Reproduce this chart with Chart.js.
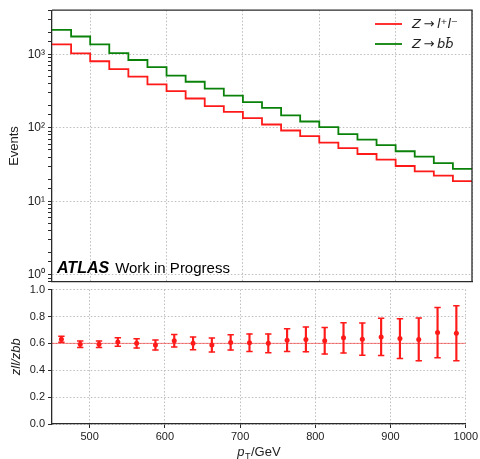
<!DOCTYPE html>
<html>
<head>
<meta charset="utf-8">
<script src="https://cdn.jsdelivr.net/npm/chart.js@4"></script>
<style>
  html, body { margin: 0; padding: 0; background: #fff; }
  #wrap { position: relative; width: 480px; height: 459px; }
  canvas { position: absolute; left: 0; }
  #top { top: 0; }
  #ratio { top: 280px; }
</style>
</head>
<body>
<div id="wrap">
  <canvas id="top" width="480" height="292"></canvas>
  <canvas id="ratio" width="480" height="179"></canvas>
</div>
<script>
// pT bin edges (GeV)
const binEdges = [450, 475, 500, 525, 550, 575, 600, 625, 650, 675, 700, 725,
                  750, 775, 800, 825, 850, 875, 900, 925, 950, 975, 1000];
// bin centres used by the ratio points
const binCentres = [462.5, 487.5, 512.5, 537.5, 562.5, 587.5, 612.5, 637.5, 662.5, 687.5, 712.5,
                    737.5, 762.5, 787.5, 812.5, 837.5, 862.5, 887.5, 912.5, 937.5, 962.5, 987.5];

// events per bin
const zllEvents = [1372, 1031, 807, 631, 498, 390, 317, 251, 198, 165, 136,
                   111, 92, 77, 63, 53, 44, 37, 30.2, 25.6, 22.4, 18.8];
const zbbEvents = [2154, 1754, 1372, 1041, 839, 671, 514, 424, 341, 275, 224,
                   187, 148, 122, 102, 82, 69, 58, 48, 40.6, 33, 27.6];

// zll / zbb ratio and its uncertainty
const ratioValues = [0.631, 0.593, 0.593, 0.610, 0.600, 0.588, 0.619, 0.600, 0.588, 0.607, 0.605,
                     0.600, 0.624, 0.629, 0.619, 0.641, 0.631, 0.648, 0.636, 0.629, 0.680, 0.675];
const ratioErrors = [0.022, 0.024, 0.024, 0.031, 0.035, 0.037, 0.046, 0.047, 0.052, 0.057, 0.065,
                     0.070, 0.085, 0.092, 0.099, 0.113, 0.120, 0.139, 0.148, 0.159, 0.187, 0.204];
const ratioReference = 0.6;

// axis ticks
const xTicks = [500, 600, 700, 800, 900, 1000];
const ratioTicks = [0, 0.2, 0.4, 0.6, 0.8, 1.0];

const seriesNames = ['Z\u2009\u2192\u2009l\u207Al\u207B', 'Z\u2009\u2192\u2009bb\u0304'];
const seriesColors = ['#ff1a1a', '#0a820a'];

const FONT = '"Liberation Sans", Arial, Helvetica, sans-serif';
const AXIS = '#2a2a2a';
const GRID = '#bdbdbd';
const GRID_DASH = [1.5, 2];
Chart.defaults.font.family = FONT;
Chart.defaults.color = '#222';

const SUP = {'-': '\u207B', '0': '\u2070', '1': '\u00B9', '2': '\u00B2', '3': '\u00B3', '4': '\u2074'};

const isDecade = v => {
  const e = Math.round(Math.log10(v));
  return Math.abs(v - Math.pow(10, e)) < 1e-6 * v;
};

// histogram outline: each bin value held across the bin, final edge repeats last value
function stepData(values) {
  return binEdges.map((x, i) => ({ x, y: values[Math.min(i, values.length - 1)] }));
}

const frameTopRight = {
  id: 'frameTopRight',
  afterDraw(chart) {
    const { ctx, chartArea: a } = chart;
    ctx.save();
    ctx.strokeStyle = AXIS;
    ctx.lineWidth = 1.3;
    ctx.beginPath();
    ctx.moveTo(a.left, a.top);
    ctx.lineTo(a.right, a.top);
    ctx.lineTo(a.right, a.bottom);
    ctx.stroke();
    ctx.restore();
  }
};

const topLabels = {
  id: 'topLabels',
  afterDraw(chart) {
    const { ctx } = chart;
    ctx.save();
    // legend
    const lx = 375, lw = 27, ys = [24, 44];
    seriesNames.forEach((name, i) => {
      ctx.strokeStyle = seriesColors[i];
      ctx.lineWidth = 1.8;
      ctx.beginPath();
      ctx.moveTo(lx, ys[i]);
      ctx.lineTo(lx + lw, ys[i]);
      ctx.stroke();
      ctx.fillStyle = '#222';
      ctx.font = 'italic 13px "DejaVu Sans", sans-serif';
      ctx.textBaseline = 'middle';
      ctx.textAlign = 'left';
      ctx.fillText(name, 412, ys[i] + 1);
    });
    // experiment label
    ctx.textBaseline = 'alphabetic';
    ctx.fillStyle = '#000';
    ctx.font = 'italic bold 16px ' + FONT;
    ctx.fillText('ATLAS', 57, 273);
    const w = ctx.measureText('ATLAS').width;
    ctx.font = '15px ' + FONT;
    ctx.fillText('Work in Progress', 57 + w + 6, 273);
    ctx.restore();
  }
};

new Chart(document.getElementById('top'), {
  type: 'line',
  data: {
    datasets: [
      { label: seriesNames[0], data: stepData(zllEvents), borderColor: seriesColors[0],
        borderWidth: 1.8, stepped: 'before', pointRadius: 0, fill: false },
      { label: seriesNames[1], data: stepData(zbbEvents), borderColor: seriesColors[1],
        borderWidth: 1.8, stepped: 'before', pointRadius: 0, fill: false }
    ]
  },
  options: {
    responsive: false,
    animation: false,
    layout: { padding: { top: 8, left: 0, right: 8, bottom: 6 } },
    plugins: { legend: { display: false }, tooltip: { enabled: false } },
    scales: {
      x: {
        type: 'linear', min: 450, max: 1000, offset: false,
        afterBuildTicks: s => { s.ticks = xTicks.map(v => ({ value: v })); },
        afterFit: s => { s.height = 0; },
        ticks: { display: false },
        grid: { color: GRID, lineWidth: 1, drawTicks: false },
        border: { color: AXIS, width: 1.3, dash: GRID_DASH }
      },
      y: {
        type: 'logarithmic', min: 0.8, max: 4000,
        afterFit: s => { s.width = 52; },
        ticks: {
          autoSkip: false, padding: 3, font: { size: 12 }, color: '#222',
          callback: v => {
            if (!isDecade(v)) return '';
            const e = Math.round(Math.log10(v));
            return '10' + String(e).split('').map(c => SUP[c]).join('');
          }
        },
        grid: {
          color: c => (c.tick && isDecade(c.tick.value) ? GRID : 'rgba(0,0,0,0)'),
          lineWidth: 1,
          tickLength: 4, tickColor: AXIS, tickWidth: 1
        },
        border: { color: AXIS, width: 1.3, dash: GRID_DASH },
        title: { display: true, text: 'Events', font: { size: 13 }, color: '#222', padding: { top: 7, bottom: 0 } }
      }
    }
  },
  plugins: [frameTopRight, topLabels]
});

const xTitle = {
  id: 'xTitle',
  afterDraw(chart) {
    const { ctx, chartArea: a } = chart;
    ctx.save();
    ctx.fillStyle = '#222';
    ctx.textBaseline = 'alphabetic';
    ctx.textAlign = 'left';
    const fMain = '13px ' + FONT, fIt = 'italic 13px ' + FONT, fSub = '9px ' + FONT;
    ctx.font = fIt; const wp = ctx.measureText('p').width;
    ctx.font = fSub; const wt = ctx.measureText('T').width;
    ctx.font = fMain; const wg = ctx.measureText('/GeV').width;
    const total = wp + wt + 1 + wg;
    let x = (a.left + a.right) / 2 - total / 2;
    const base = 176;
    ctx.font = fIt; ctx.fillText('p', x, base); x += wp + 0.5;
    ctx.font = fSub; ctx.fillText('T', x, base + 3); x += wt + 0.5;
    ctx.font = fMain; ctx.fillText('/GeV', x, base);
    ctx.restore();
  }
};

const RED = '#ff1a1a';
new Chart(document.getElementById('ratio'), {
  type: 'scatter',
  data: {
    datasets: [
      { type: 'line', data: [{ x: binEdges[0], y: ratioReference }, { x: binEdges[binEdges.length - 1], y: ratioReference }],
        borderColor: 'rgba(255,0,0,0.5)', borderWidth: 1, pointRadius: 0, order: 4 },
      { type: 'bar', data: binCentres.map((x, i) => ({ x, y: [ratioValues[i] - ratioErrors[i], ratioValues[i] + ratioErrors[i]] })),
        backgroundColor: RED, borderWidth: 0, barThickness: 1.5, order: 3 },
      { data: binCentres.flatMap((x, i) => [{ x, y: ratioValues[i] + ratioErrors[i] }, { x, y: ratioValues[i] - ratioErrors[i] }]),
        pointStyle: 'line', pointRadius: 3.2, borderColor: RED, borderWidth: 1.5, order: 2 },
      { data: binCentres.map((x, i) => ({ x, y: ratioValues[i] })),
        pointStyle: 'circle', pointRadius: 2.5, backgroundColor: RED, borderColor: RED, borderWidth: 0, order: 1 }
    ]
  },
  options: {
    responsive: false,
    animation: false,
    layout: { padding: { top: 6, left: 0, right: 8, bottom: 0 } },
    plugins: { legend: { display: false }, tooltip: { enabled: false } },
    scales: {
      x: {
        type: 'linear', min: 450, max: 1000, offset: false,
        afterBuildTicks: s => { s.ticks = xTicks.map(v => ({ value: v })); },
        afterFit: s => { s.height = 35; },
        ticks: { padding: 2, font: { size: 11 }, color: '#222', callback: v => String(v) },
        grid: { color: GRID, lineWidth: 1, tickLength: 4, tickColor: AXIS, offset: false },
        border: { color: AXIS, width: 1.3, dash: GRID_DASH }
      },
      y: {
        type: 'linear', min: 0, max: 1,
        afterBuildTicks: s => { s.ticks = ratioTicks.map(v => ({ value: v })); },
        afterFit: s => { s.width = 52; },
        ticks: { padding: 3, font: { size: 11 }, color: '#222', callback: v => Number(v).toFixed(1) },
        grid: { color: GRID, lineWidth: 1, tickLength: 4, tickColor: AXIS },
        border: { color: AXIS, width: 1.3, dash: GRID_DASH },
        title: { display: true, text: 'zll/zbb', font: { size: 13, style: 'italic' }, color: '#222', padding: { top: 9, bottom: 0 } }
      }
    }
  },
  plugins: [xTitle]
});
</script>
</body>
</html>
